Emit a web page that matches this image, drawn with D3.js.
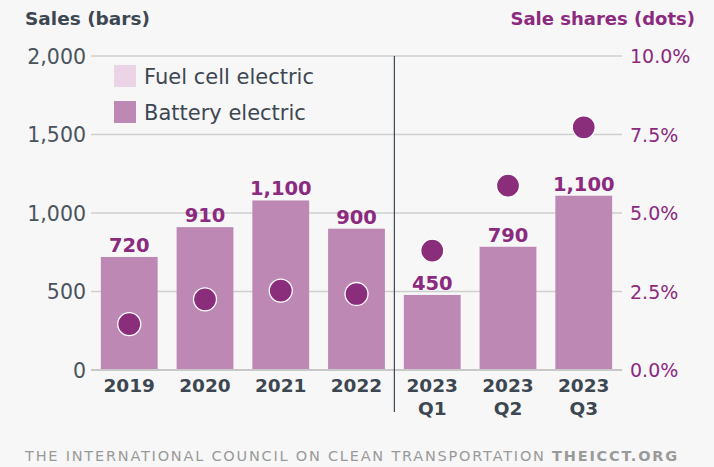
<!DOCTYPE html>
<html><head><meta charset="utf-8">
<script src="https://cdn.jsdelivr.net/npm/d3@7"></script>
<style>
html,body{margin:0;padding:0;background:#f7f7f7;}
svg{display:block;font-family:"DejaVu Sans",sans-serif;}
</style></head>
<body><svg id="c" width="714" height="467"></svg>
<script>
const categories = ["2019","2020","2021","2022","2023 Q1","2023 Q2","2023 Q3"];
const batteryElectric = [720, 910, 1080, 900, 478, 785, 1110];
const fuelCellElectric = [0, 0, 0, 0, 0, 0, 0];
const barLabels = ["720","910","1,100","900","450","790","1,100"];
const saleShares = [1.46, 2.25, 2.53, 2.42, 3.80, 5.87, 7.73];
const leftTicks = [0, 500, 1000, 1500, 2000];
const rightTicks = [0, 2.5, 5, 7.5, 10];

const svg = d3.select("#c");
const W = 714, H = 467;
svg.append("rect").attr("width",W).attr("height",H).attr("fill","#f7f7f7");

const x0 = 91, x1 = 622, yTop = 56, yBot = 370;
const x = d3.scaleBand().domain(categories).range([x0,x1]).paddingInner(0.25).paddingOuter(0.13);
const y = d3.scaleLinear().domain([0,2000]).range([yBot,yTop]);
const y2 = d3.scaleLinear().domain([0,10]).range([yBot,yTop]);

const dark = "#3d4752", purple = "#8b2a7f", barCol = "#be88b5", fcCol = "#ead4e6";

// gridlines
svg.append("g").selectAll("line").data(leftTicks).join("line")
  .attr("x1",x0).attr("x2",x1).attr("y1",d=>y(d)).attr("y2",d=>y(d))
  .attr("stroke","#cfcfcf").attr("stroke-width",1.5);

// left axis
const la = svg.append("g").attr("transform",`translate(${x0-5},0)`)
  .call(d3.axisLeft(y).tickValues(leftTicks).tickSize(0).tickPadding(0).tickFormat(d3.format(",")));
la.select(".domain").remove();
la.selectAll("text").attr("fill","#4a545e").attr("font-size",20.5).attr("font-family","DejaVu Sans").attr("dy","0.36em").attr("x",0);

// right axis
const ra = svg.append("g").attr("transform",`translate(${x1+8},0)`)
  .call(d3.axisRight(y2).tickValues(rightTicks).tickSize(0).tickPadding(0).tickFormat(d=>d.toFixed(1)+"%"));
ra.select(".domain").remove();
ra.selectAll("text").attr("fill",purple).attr("font-size",19).attr("font-family","DejaVu Sans").attr("dy","0.36em").attr("x",0);

// bars (stacked)
const bars = svg.append("g");
bars.selectAll("rect.be").data(categories).join("rect").attr("class","be")
  .attr("x",d=>x(d)).attr("width",x.bandwidth())
  .attr("y",(d,i)=>y(batteryElectric[i])).attr("height",(d,i)=>yBot-y(batteryElectric[i]))
  .attr("fill",barCol);
bars.selectAll("rect.fc").data(categories).join("rect").attr("class","fc")
  .attr("x",d=>x(d)).attr("width",x.bandwidth())
  .attr("y",(d,i)=>y(batteryElectric[i]+fuelCellElectric[i])).attr("height",(d,i)=>y(batteryElectric[i])-y(batteryElectric[i]+fuelCellElectric[i]))
  .attr("fill",fcCol);

// bar labels
svg.append("g").selectAll("text").data(categories).join("text")
  .attr("x",d=>x(d)+x.bandwidth()/2).attr("y",(d,i)=>y(batteryElectric[i]+fuelCellElectric[i])-5)
  .attr("text-anchor","middle").attr("fill",purple).attr("font-weight",700).attr("font-size",19.5)
  .text((d,i)=>barLabels[i]);

// baseline
svg.append("line").attr("x1",x0).attr("x2",x1).attr("y1",yBot).attr("y2",yBot)
  .attr("stroke","#c8c8c8").attr("stroke-width",2);

// divider
const divX = (x(categories[3])+x.bandwidth()+x(categories[4]))/2;
svg.append("line").attr("x1",divX).attr("x2",divX).attr("y1",yTop).attr("y2",412)
  .attr("stroke","#3d4752").attr("stroke-width",1.2);

// dots
svg.append("g").selectAll("circle").data(categories).join("circle")
  .attr("cx",d=>x(d)+x.bandwidth()/2).attr("cy",(d,i)=>y2(saleShares[i]))
  .attr("r",11.5).attr("fill","#8a2e7c").attr("stroke","#ffffff").attr("stroke-width",1.3);

// x labels
const xl = svg.append("g").selectAll("text").data(categories).join("text")
  .attr("x",d=>x(d)+x.bandwidth()/2).attr("y",392)
  .attr("text-anchor","middle").attr("fill",dark).attr("font-weight",700).attr("font-size",18.5);
xl.each(function(d){
  const parts = d.split(" ");
  const t = d3.select(this);
  parts.forEach((p,k)=>t.append("tspan").attr("x",t.attr("x")).attr("dy",k===0?0:23).text(p));
});

// titles
svg.append("text").attr("x",25).attr("y",25).attr("fill",dark).attr("font-weight",700).attr("font-size",18.5).text("Sales (bars)");
svg.append("text").attr("x",695).attr("y",25).attr("text-anchor","end").attr("fill",purple).attr("font-weight",700).attr("font-size",18).text("Sale shares (dots)");

// legend
const legend = [{name:"Fuel cell electric",col:fcCol},{name:"Battery electric",col:barCol}];
const lg = svg.append("g").selectAll("g").data(legend).join("g").attr("transform",(d,i)=>`translate(114,${65+i*36})`);
lg.append("rect").attr("width",22).attr("height",22).attr("fill",d=>d.col);
lg.append("text").attr("x",30).attr("y",11).attr("dy","0.36em").attr("fill",dark).attr("font-size",21).text(d=>d.name);

// footer
const ft = svg.append("text").attr("x",25).attr("y",461).attr("fill","#9a9a9a").attr("font-size",14.5).attr("letter-spacing",1.78);
ft.append("tspan").text("THE INTERNATIONAL COUNCIL ON CLEAN TRANSPORTATION ");
ft.append("tspan").attr("font-weight",700).text("THEICCT.ORG");
</script></body></html>
